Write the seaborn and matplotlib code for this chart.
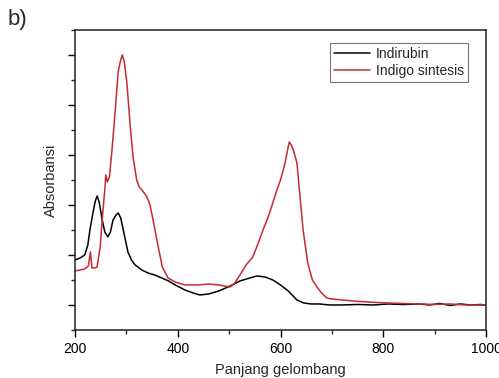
import seaborn as sns
import matplotlib.pyplot as plt
from matplotlib.ticker import MultipleLocator, NullFormatter
import pandas as pd

# absorbance (arbitrary units, no y labels on the original)
wl_indirubin = [200, 210, 219, 225, 229, 235, 239, 243, 247, 253, 258, 264, 269, 274, 280,
                284, 289, 294, 303, 310, 317, 330, 342, 355, 369, 382, 395, 414, 430, 443,
                460, 480, 502, 521, 540, 554, 570, 585, 600, 615, 632, 645, 660, 676, 696,
                720, 750, 780, 810, 840, 870, 890, 910, 930, 950, 970, 990, 1000]
abs_indirubin = [0.70, 0.72, 0.75, 0.85, 1.00, 1.17, 1.28, 1.34, 1.28, 1.10, 0.98, 0.93, 0.98,
                 1.10, 1.15, 1.17, 1.12, 1.00, 0.78, 0.70, 0.65, 0.60, 0.57, 0.55, 0.52, 0.49,
                 0.45, 0.40, 0.37, 0.35, 0.36, 0.39, 0.44, 0.49, 0.52, 0.54, 0.53, 0.50, 0.45,
                 0.39, 0.30, 0.27, 0.26, 0.26, 0.25, 0.25, 0.255, 0.25, 0.26, 0.255, 0.26, 0.25,
                 0.265, 0.245, 0.26, 0.25, 0.255, 0.245]

wl_indigo = [200, 210, 219, 226, 230, 233, 238, 243, 249, 254, 258, 260, 263, 267, 272, 278,
             284, 288, 292, 296, 301, 307, 313, 320, 325, 330, 336, 340, 346, 352, 362, 370,
             381, 395, 414, 440, 460, 480, 502, 511, 521, 533, 546, 556, 566, 576, 585, 593,
             600, 608, 613, 617, 621, 626, 632, 638, 644, 653, 662, 671, 680, 690, 700, 720,
             741, 770, 807, 840, 871, 900, 930, 960, 1000]
abs_indigo = [0.59, 0.60, 0.61, 0.64, 0.78, 0.62, 0.62, 0.63, 0.83, 1.17, 1.40, 1.55, 1.48,
              1.53, 1.80, 2.17, 2.58, 2.68, 2.75, 2.68, 2.47, 2.07, 1.73, 1.50, 1.43, 1.40,
              1.36, 1.33, 1.25, 1.10, 0.83, 0.63, 0.52, 0.48, 0.45, 0.45, 0.46, 0.45, 0.43,
              0.47, 0.55, 0.65, 0.73, 0.86, 1.00, 1.13, 1.27, 1.40, 1.50, 1.65, 1.78, 1.88,
              1.85, 1.78, 1.67, 1.33, 1.00, 0.67, 0.50, 0.43, 0.37, 0.32, 0.31, 0.30, 0.29,
              0.28, 0.27, 0.265, 0.26, 0.255, 0.26, 0.25, 0.25]

series_names = ["Indirubin", "Indigo sintesis"]
colors = ["black", "#c62a32"]

sns.set_style("ticks")
plt.rcParams["font.family"] = ["Liberation Sans", "DejaVu Sans"]

df = pd.concat([
    pd.DataFrame({"wl": wl_indirubin, "A": abs_indirubin, "sample": series_names[0]}),
    pd.DataFrame({"wl": wl_indigo, "A": abs_indigo, "sample": series_names[1]}),
])

fig = plt.figure(figsize=(4.99, 3.78), dpi=100)
ax = fig.add_axes([0.1503, 0.127, 0.8237, 0.794])

sns.lineplot(data=df, x="wl", y="A", hue="sample", palette=dict(zip(series_names, colors)),
             estimator=None, sort=False, linewidth=1.1, ax=ax)

ax.set_xlim(200, 1000)
ax.set_ylim(0, 3.0)
ax.xaxis.set_major_locator(MultipleLocator(200))
ax.xaxis.set_minor_locator(MultipleLocator(100))
ax.yaxis.set_minor_locator(MultipleLocator(0.25))
ax.set_yticks([0.25, 0.75, 1.25, 1.75, 2.25, 2.75])
ax.yaxis.set_major_formatter(NullFormatter())
ax.tick_params(which="major", direction="out", length=5, width=1.0, labelsize=10, colors="black")
ax.tick_params(which="minor", direction="out", length=3, width=1.0)
for s in ax.spines.values():
    s.set_visible(True)
    s.set_linewidth(1.1)
    s.set_color("#222222")

ax.set_xlabel("Panjang gelombang", fontsize=10.5, labelpad=5)
ax.set_ylabel("Absorbansi", fontsize=10.5, labelpad=4)

leg = ax.legend(loc="upper right", bbox_to_anchor=(0.956, 0.957), borderaxespad=0,
                fontsize=10, frameon=True, fancybox=False, handlelength=2.6,
                handletextpad=0.4, borderpad=0.3, labelspacing=0.2)
leg.get_frame().set_edgecolor("#555555")
leg.get_frame().set_linewidth(0.8)
for line in leg.get_lines():
    line.set_linewidth(1.1)

fig.text(0.016, 0.948, "b)", fontsize=16, va="center", ha="left")

fig.savefig("out.png", dpi=100)
plt.close(fig)
